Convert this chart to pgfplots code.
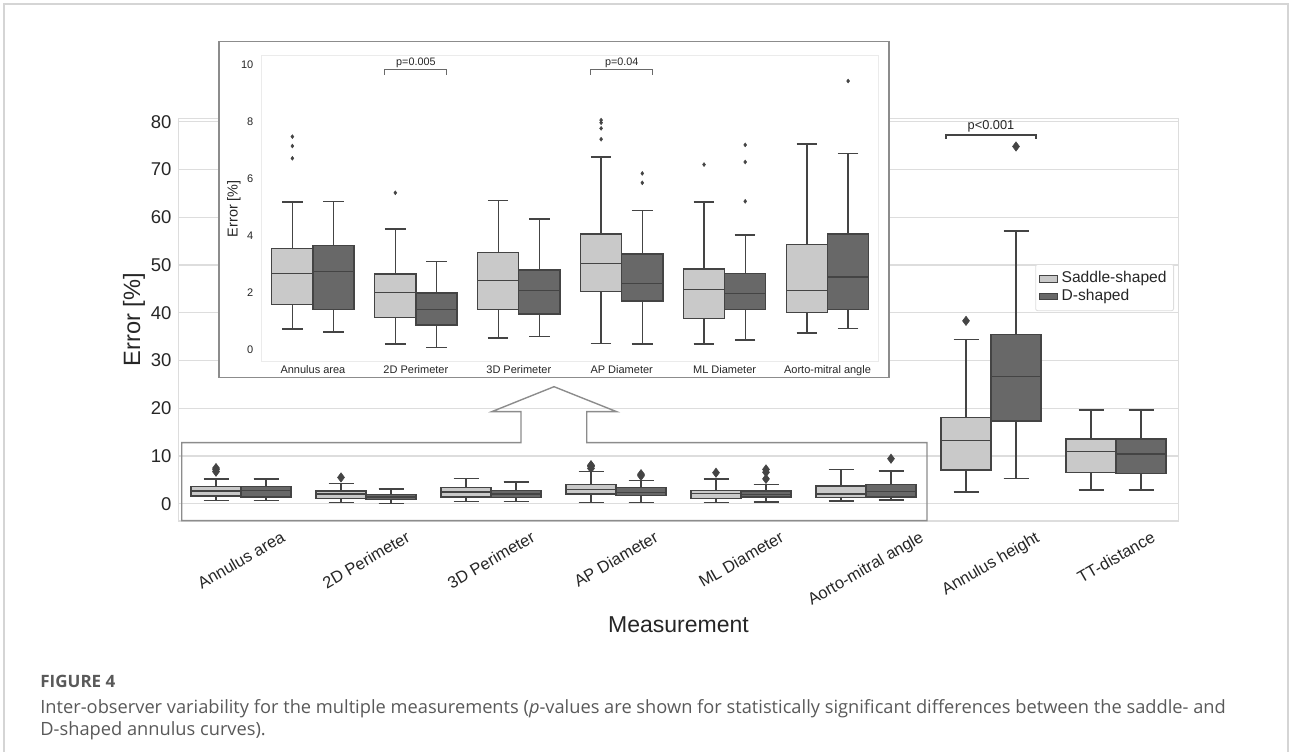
\documentclass[border=0pt]{standalone}
\usepackage{fontspec}
\setmainfont{Liberation Sans}
\newfontfamily\capfont{Open Sans}
\usepackage{graphicx}
\usepackage{pgfplots}
\pgfplotsset{compat=1.18}
\usepgfplotslibrary{statistics}
\definecolor{sad}{HTML}{C9C9C9}
\definecolor{dsh}{HTML}{686868}
\definecolor{edge}{HTML}{444444}
\definecolor{gridc}{HTML}{DDDDDD}
\definecolor{txt}{HTML}{262626}
\definecolor{insetframe}{HTML}{8C8C8C}
\definecolor{capc}{HTML}{595959}
\definecolor{pagec}{HTML}{D5D5D5}

% box without outliers: pos, lw, lq, med, uq, uw, fill
\newcommand\bx[7]{%
  \addplot[forget plot, draw=edge, fill=#7, line width=0.7pt,
    boxplot prepared={draw position=#1, lower whisker=#2, lower quartile=#3,
      median=#4, upper quartile=#5, upper whisker=#6,
      box extend=0.4, whisker extend=0.2}] coordinates {};}
% box with outliers
\newcommand\bxo[8]{%
  \addplot[forget plot, draw=edge, fill=#7, line width=0.7pt, myoutl,
    boxplot prepared={draw position=#1, lower whisker=#2, lower quartile=#3,
      median=#4, upper quartile=#5, upper whisker=#6,
      box extend=0.4, whisker extend=0.2}] table[row sep=\\, y index=0] {data\\ #8};}

\begin{document}
\begin{tikzpicture}
\useasboundingbox (0,0) rectangle (646pt,375.5pt);

% ---------------- main axis ----------------
\begin{axis}[
  at={(89.25pt,115pt)}, anchor=south west,
  scale only axis, width=500pt, height=201.35pt,
  boxplot/draw direction=y,
  xmin=-0.5, xmax=7.5, ymin=-3.6, ymax=80.7,
  xtick={0,...,7},
  xticklabels={{\rotatebox{30}{Annulus area}},{\rotatebox{30}{2D Perimeter}},{\rotatebox{30}{3D Perimeter}},{\rotatebox{30}{AP Diameter}},{\rotatebox{30}{ML Diameter}},{\rotatebox{30}{Aorto-mitral angle}},{\rotatebox{30}{Annulus height}},{\rotatebox{30}{TT-distance}}},
  ytick={0,10,...,80},
  ymajorgrids, grid style={draw=gridc, line width=0.6pt},
  axis line style={draw=gridc, line width=0.6pt},
  major tick length=0pt,
  /pgf/number format/assume math mode=true,
  tick label style={text=txt},
  yticklabel style={font=\fontsize{9.25}{10}\selectfont},
  xticklabel style={font=\fontsize{8.25}{9}\selectfont, anchor=north, inner sep=0pt, yshift=-4.5pt},
  xlabel={Measurement}, ylabel={Error [\%]},
  every axis x label/.style={at={(axis description cs:0.5,-0.258)}, anchor=center, font=\fontsize{11.5}{13}\selectfont, text=txt},
  every axis y label/.style={at={(axis description cs:-0.0445,0.5)}, rotate=90, anchor=center, font=\fontsize{11.8}{13}\selectfont, text=txt},
  myoutl/.style={mark=diamond*, mark size=2.3pt, mark options={draw=edge, fill=edge, line width=0.3pt}},
  legend style={at={(axis description cs:0.9955,0.638)}, anchor=north east, draw=gridc, rounded corners=1pt,
    font=\fontsize{7.8}{9}\selectfont, text=txt, inner sep=1.5pt, row sep=-2.2pt},
  legend cell align=left,
]
\addlegendimage{legend image code/.code={\draw[sharp corners, draw=edge, fill=sad, line width=0.5pt] (0pt,-1.7pt) rectangle (9pt,1.7pt);}}
\addlegendentry{Saddle-shaped}
\addlegendimage{legend image code/.code={\draw[sharp corners, draw=edge, fill=dsh, line width=0.5pt] (0pt,-1.7pt) rectangle (9pt,1.7pt);}}
\addlegendentry{D-shaped}

\bxo{-0.2}{0.74}{1.61}{2.68}{3.57}{5.19}{sad}{7.49\\ 7.16\\ 6.73\\}
\bx{0.2}{0.63}{1.43}{2.76}{3.67}{5.22}{dsh}
\bxo{0.8}{0.22}{1.15}{2.02}{2.67}{4.25}{sad}{5.52\\}
\bx{1.2}{0.09}{0.88}{1.43}{2.01}{3.10}{dsh}
\bx{1.8}{0.43}{1.43}{2.44}{3.43}{5.24}{sad}
\bx{2.2}{0.48}{1.27}{2.09}{2.81}{4.60}{dsh}
\bxo{2.8}{0.23}{2.05}{3.04}{4.07}{6.78}{sad}{8.07\\ 7.98\\ 7.78\\ 7.40\\}
\bxo{3.2}{0.22}{1.72}{2.34}{3.37}{4.89}{dsh}{6.20\\ 5.87\\}
\bxo{3.8}{0.22}{1.11}{2.13}{2.84}{5.19}{sad}{6.51\\}
\bxo{4.2}{0.35}{1.43}{1.98}{2.68}{4.04}{dsh}{7.20\\ 6.60\\ 5.22\\}
\bx{4.8}{0.60}{1.32}{2.09}{3.71}{7.23}{sad}
\bxo{5.2}{0.76}{1.43}{2.57}{4.08}{6.89}{dsh}{9.44\\}
\bxo{5.8}{2.5}{7.1}{13.2}{18.1}{34.4}{sad}{38.3\\}
\bxo{6.2}{5.3}{17.3}{26.7}{35.5}{57.1}{dsh}{74.8\\}
\bx{6.8}{2.9}{6.6}{10.9}{13.6}{19.6}{sad}
\bx{7.2}{2.9}{6.4}{10.4}{13.6}{19.6}{dsh}

\draw[draw=edge, line width=0.6pt] (axis cs:5.64,76.4) -- (axis cs:5.64,77.2) -- (axis cs:6.36,77.2) -- (axis cs:6.36,76.4);
\node[anchor=south, inner sep=1pt, text=txt, font=\fontsize{6.4}{7}\selectfont] at (axis cs:6,77.2) {p<0.001};
\end{axis}

% ---------------- inset frame ----------------
\begin{scope}[x=0.5pt, y=-0.5pt, shift={(0pt,375.5pt)}]
\draw[pagec, line width=0.8pt] (4,760) -- (4,4) -- (1288,4) -- (1288,760);
\filldraw[draw=insetframe, fill=white, line width=0.7pt] (219,41.7) rectangle (889,377.5);
\end{scope}

% ---------------- inset axis ----------------
\begin{axis}[
  at={(130.75pt,194.75pt)}, anchor=south west,
  scale only axis, width=308.75pt, height=152.9pt,
  boxplot/draw direction=y,
  xmin=-0.5, xmax=5.5, ymin=-0.40, ymax=10.33,
  xtick={0,...,5},
  xticklabels={Annulus area, 2D Perimeter, 3D Perimeter, AP Diameter, ML Diameter, Aorto-mitral angle},
  ytick={0,2,...,10},
  axis line style={draw=gridc!60, line width=0.5pt},
  major tick length=0pt,
  /pgf/number format/assume math mode=true,
  tick label style={text=txt, font=\fontsize{5.5}{6}\selectfont},
  xticklabel style={anchor=north, inner sep=0pt, yshift=-1.9pt},
  yticklabel style={xshift=-0.6pt},
  ylabel={Error [\%]},
  every axis y label/.style={at={(axis description cs:-0.0445,0.5)}, rotate=90, anchor=center, font=\fontsize{7.2}{8}\selectfont, text=txt},
  myoutl/.style={mark=diamond*, mark size=1.0pt, mark options={draw=edge, fill=edge, line width=0.2pt}},
]
\bxo{-0.2}{0.74}{1.61}{2.68}{3.57}{5.19}{sad}{7.49\\ 7.16\\ 6.73\\}
\bx{0.2}{0.63}{1.43}{2.76}{3.67}{5.22}{dsh}
\bxo{0.8}{0.22}{1.15}{2.02}{2.67}{4.25}{sad}{5.52\\}
\bx{1.2}{0.09}{0.88}{1.43}{2.01}{3.10}{dsh}
\bx{1.8}{0.43}{1.43}{2.44}{3.43}{5.24}{sad}
\bx{2.2}{0.48}{1.27}{2.09}{2.81}{4.60}{dsh}
\bxo{2.8}{0.23}{2.05}{3.04}{4.07}{6.78}{sad}{8.07\\ 7.98\\ 7.78\\ 7.40\\}
\bxo{3.2}{0.22}{1.72}{2.34}{3.37}{4.89}{dsh}{6.20\\ 5.87\\}
\bxo{3.8}{0.22}{1.11}{2.13}{2.84}{5.19}{sad}{6.51\\}
\bxo{4.2}{0.35}{1.43}{1.98}{2.68}{4.04}{dsh}{7.20\\ 6.60\\ 5.22\\}
\bx{4.8}{0.60}{1.32}{2.09}{3.71}{7.23}{sad}
\bxo{5.2}{0.76}{1.43}{2.57}{4.08}{6.89}{dsh}{9.44\\}

\draw[draw=edge!80, line width=0.5pt] (axis cs:0.7,9.67) -- (axis cs:0.7,9.85) -- (axis cs:1.3,9.85) -- (axis cs:1.3,9.67);
\node[anchor=south, inner sep=0.8pt, text=txt, font=\fontsize{5.4}{6}\selectfont] at (axis cs:1,9.85) {p=0.005};
\draw[draw=edge!80, line width=0.5pt] (axis cs:2.7,9.67) -- (axis cs:2.7,9.85) -- (axis cs:3.3,9.85) -- (axis cs:3.3,9.67);
\node[anchor=south, inner sep=0.8pt, text=txt, font=\fontsize{5.4}{6}\selectfont] at (axis cs:3,9.85) {p=0.04};
\end{axis}

% ---------------- callout + caption ----------------
\begin{scope}[x=0.5pt, y=-0.5pt, shift={(0pt,375.5pt)}]
\draw[insetframe, line width=0.7pt, line join=miter]
  (521,442.7) -- (521,411.7) -- (491.7,411.7) -- (554,386.7) -- (616.7,411.7) -- (586.7,411.7) -- (586.7,442.7)
  -- (927,442.7) -- (927,520.7) -- (181.7,520.7) -- (181.7,442.7) -- cycle;
\node[anchor=west, inner sep=0pt, text=capc, font=\capfont\bfseries\fontsize{8.5}{10}\selectfont] at (40,681) {FIGURE 4};
\node[anchor=west, inner sep=0pt, text=capc, font=\capfont\fontsize{9.13}{11}\selectfont] at (40,709) {Inter-observer variability for the multiple measurements (\textit{p}-values are shown for statistically significant differences between the saddle- and};
\node[anchor=west, inner sep=0pt, text=capc, font=\capfont\fontsize{9.13}{11}\selectfont] at (40,731) {D-shaped annulus curves).};
\end{scope}
\end{tikzpicture}
\end{document}
